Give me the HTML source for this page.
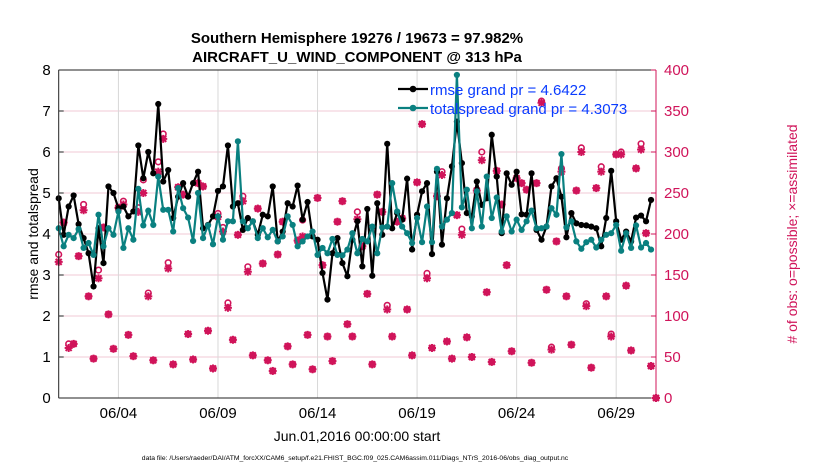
<!DOCTYPE html>
<html><head><meta charset="utf-8"><style>
body{margin:0;background:#fff;}
svg{display:block;font-family:"Liberation Sans",Arial,sans-serif;}
</style></head><body>
<svg id="chart" width="830" height="470" viewBox="0 0 830 470" xmlns="http://www.w3.org/2000/svg">
<rect width="830" height="470" fill="#fff"/>
<text x="357" y="43" text-anchor="middle" font-size="15" font-weight="bold">Southern Hemisphere 19276 / 19673 = 97.982%</text>
<text x="357" y="62" text-anchor="middle" font-size="15" font-weight="bold">AIRCRAFT_U_WIND_COMPONENT @ 313 hPa</text>
<g id="grid"></g>
<g id="marks"></g>
<g id="axes"></g>
<g>
<line x1="398" y1="89" x2="428" y2="89" stroke="#000" stroke-width="2.2"/>
<circle cx="413" cy="89" r="3.3" fill="#000"/>
<text x="430" y="95" font-size="15" fill="#0a3cff">rmse grand pr = 4.6422</text>
<line x1="398" y1="108" x2="428" y2="108" stroke="#0a8080" stroke-width="2.2"/>
<circle cx="413" cy="108" r="3.3" fill="#0a8080"/>
<text x="430" y="114" font-size="15" fill="#0a3cff">totalspread grand pr = 4.3073</text>
</g>
<text transform="translate(38,234) rotate(-90)" text-anchor="middle" font-size="14">rmse and totalspread</text>
<text transform="translate(797,234) rotate(-90)" text-anchor="middle" font-size="14" fill="#d0145a"># of obs: o=possible; ×=assimilated</text>
<text x="357" y="441" text-anchor="middle" font-size="14">Jun.01,2016 00:00:00 start</text>
<text x="355" y="460" text-anchor="middle" font-size="6.8">data file: /Users/raeder/DAI/ATM_forcXX/CAM6_setup/f.e21.FHIST_BGC.f09_025.CAM6assim.011/Diags_NTrS_2016-06/obs_diag_output.nc</text>
</svg>
<script>
const rmse=[4.87,3.98,4.67,4.94,4.24,3.9,3.53,2.72,4.14,3.29,5.16,5.0,4.63,4.67,4.43,4.55,6.16,5.36,6.0,5.48,7.17,5.28,5.56,4.39,4.91,5.24,4.91,5.24,5.52,4.14,4.22,4.43,5.05,5.16,6.16,4.67,4.75,4.10,4.39,4.31,3.98,
4.47,4.43,5.16,3.82,4.06,4.75,4.67,5.18,4.35,4.78,3.94,3.86,3.05,2.40,3.53,3.90,3.29,2.97,3.86,4.31,3.21,4.61,2.98,4.75,3.98,6.20,4.14,4.51,4.35,5.35,3.62,4.47,5.04,5.24,3.51,5.52,3.74,4.87,5.65,6.74,
5.73,4.51,4.43,5.28,4.71,4.87,6.42,5.40,4.02,5.48,5.20,5.52,4.48,4.47,5.48,4.10,3.86,4.18,5.16,5.36,4.91,3.92,4.51,4.26,4.22,4.21,4.18,4.14,3.70,4.39,5.54,4.31,3.86,4.06,3.82,4.40,4.45,4.31,4.83];
const spread=[4.14,3.70,3.98,3.9,4.12,3.66,3.78,3.49,4.47,3.70,4.14,3.98,4.55,3.66,4.14,3.86,5.10,4.21,4.57,4.22,5.40,4.59,4.59,4.06,5.12,4.63,4.40,3.83,5.0,3.9,4.21,3.75,4.43,3.86,4.31,4.31,6.26,4.31,4.14,4.31,3.90,
4.14,3.92,4.10,3.82,3.94,4.43,4.22,3.70,3.82,3.94,4.06,3.49,3.66,3.53,3.88,3.49,3.48,3.62,4.02,3.53,3.88,3.82,4.18,3.53,4.16,4.18,5.24,4.55,4.18,4.02,3.78,4.39,3.80,4.67,3.80,5.59,4.18,4.35,4.51,7.88,
4.65,5.08,4.14,5.04,4.18,5.40,4.39,4.89,4.06,4.43,4.06,4.35,4.10,4.31,4.57,4.14,4.14,4.18,4.63,4.47,5.95,4.16,4.31,3.82,3.64,3.80,3.86,3.67,3.86,3.98,4.02,4.22,3.59,4.02,3.66,4.21,3.67,3.78,3.62];
const obsUsed=[166,214,61,66,173,229,124,48,146,208,102,60,232,236,77,51,227,250,124,46,276,316,158,41,257,248,78,47,262,258,82,36,221,203,110,71,199,240,154,52,231,
164,46,33,175,215,63,41,192,197,77,35,244,162,75,45,215,240,90,75,218,185,127,41,248,227,108,75,215,219,108,52,263,334,146,61,246,272,69,48,223,
199,74,50,253,290,129,44,277,236,162,57,268,262,254,43,262,360,132,59,191,276,124,65,253,300,112,37,256,276,124,75,297,297,137,58,280,303,201,39,0];
const obsPossible=[175,214,66,66,173,236,124,48,156,208,102,60,232,240,77,51,232,266,128,46,288,322,165,41,257,248,78,47,262,258,82,36,225,208,116,71,199,246,160,52,231,
164,46,33,175,215,63,41,192,217,77,35,244,162,75,45,215,240,90,75,227,185,127,41,248,227,113,75,215,219,108,52,263,334,152,61,246,276,69,48,223,
206,74,50,253,300,129,44,277,236,162,57,268,262,254,43,262,362,132,62,191,280,124,65,253,305,115,37,256,282,124,78,297,300,137,58,280,310,201,39,0];
const xTickDays=[3,8,13,18,23,28];
const xTickLabels=["06/04","06/09","06/14","06/19","06/24","06/29"];
const yTicksLeft=[0,1,2,3,4,5,6,7,8];
const yTicksRight=[0,50,100,150,200,250,300,350,400];

const L=58.7,R=656,T=70,B=398;
const X=d=>L+(d/30)*(R-L);
const YL=v=>B-(v/8)*(B-T);
const YR=v=>B-(v/400)*(B-T);
const NS="http://www.w3.org/2000/svg";
function mk(tag,attrs,parent){const e=document.createElementNS(NS,tag);for(const k in attrs)e.setAttribute(k,attrs[k]);parent.appendChild(e);return e;}
const grid=document.getElementById('grid'),marks=document.getElementById('marks'),axes=document.getElementById('axes');

yTicksRight.forEach(v=>{const l=mk('line',{x1:L,x2:R,y1:YR(v),y2:YR(v),stroke:'#f2c8d6','stroke-width':1},grid);

});
xTickDays.forEach(d=>{const l=mk('line',{x1:X(d),x2:X(d),y1:T,y2:B,stroke:'#d8d8d8','stroke-width':1},grid);

});

function star(cx,cy,parent){const g=mk('g',{stroke:'#d0145a','stroke-width':2},parent);


mk('line',{x1:cx-4,x2:cx+4,y1:cy,y2:cy},g);mk('line',{x1:cx,x2:cx,y1:cy-4,y2:cy+4},g);
mk('line',{x1:cx-3,x2:cx+3,y1:cy-3,y2:cy+3},g);mk('line',{x1:cx-3,x2:cx+3,y1:cy+3,y2:cy-3},g);}
obsPossible.forEach((v,i)=>{const c=mk('circle',{cx:X(i*0.25),cy:YR(v),r:2.8,fill:'none',stroke:'#d0145a','stroke-width':1.6},marks);

});
obsUsed.forEach((v,i)=>star(X(i*0.25),YR(v),marks));

function series(arr,color,name){
const pts=arr.map((v,i)=>X(i*0.25)+','+YL(v)).join(' ');
const pl=mk('polyline',{points:pts,fill:'none',stroke:color,'stroke-width':2.2,'stroke-linejoin':'round'},marks);


arr.forEach((v,i)=>{const c=mk('circle',{cx:X(i*0.25),cy:YL(v),r:3.1,fill:color},marks);

});}
series(rmse,'#000','rmse');
series(spread,'#0a8080','totalspread');

mk('line',{x1:L,x2:R,y1:T,y2:T,stroke:'#222','stroke-width':1},axes);
mk('line',{x1:L,x2:R,y1:B,y2:B,stroke:'#222','stroke-width':1},axes);
mk('line',{x1:L,x2:L,y1:T,y2:B,stroke:'#222','stroke-width':1},axes);
mk('line',{x1:R,x2:R,y1:T,y2:B,stroke:'#d0145a','stroke-width':1},axes);
yTicksLeft.forEach(v=>{const t=mk('text',{x:L-8,y:YL(v)+5,'text-anchor':'end','font-size':15},axes);t.textContent=v;


mk('line',{x1:L,x2:L+5,y1:YL(v),y2:YL(v),stroke:'#222'},axes);});
yTicksRight.forEach(v=>{const t=mk('text',{x:R+8,y:YR(v)+5,'font-size':15,fill:'#d0145a'},axes);t.textContent=v;


mk('line',{x1:R-5,x2:R,y1:YR(v),y2:YR(v),stroke:'#d0145a'},axes);});
xTickDays.forEach((d,i)=>{const t=mk('text',{x:X(d),y:418,'text-anchor':'middle','font-size':15},axes);t.textContent=xTickLabels[i];

});
</script>
</body></html>
